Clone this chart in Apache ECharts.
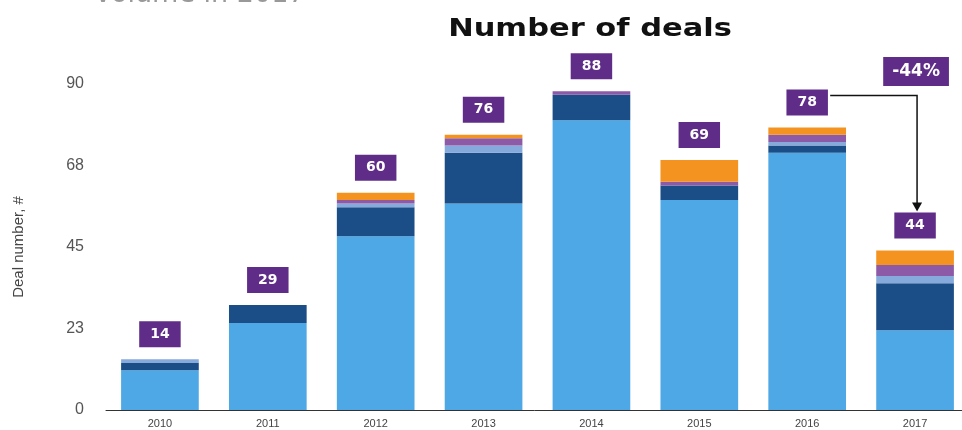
<!DOCTYPE html>
<html>
<head>
<meta charset="utf-8">
<script src="https://cdn.jsdelivr.net/npm/echarts@6/dist/echarts.min.js"></script>
<style>
  html, body { margin: 0; padding: 0; background: #fff; }
  #chart { width: 962px; height: 430px; }
</style>
</head>
<body>
<div id="chart"></div>
<script>
  // values, stacked from the bottom up
  const years = ['2010', '2011', '2012', '2013', '2014', '2015', '2016', '2017'];
  const lightBlue = [11, 24, 48, 57, 80, 58, 71, 22];
  const navy = [2, 5, 8, 14, 7, 4, 2, 13];
  const steel = [1, 0, 1, 2, 0, 0, 1, 2];
  const purple = [0, 0, 1, 2, 1, 1, 2, 3];
  const orange = [0, 0, 2, 1, 0, 6, 2, 4];
  const totals = [14, 29, 60, 76, 88, 69, 78, 44];
  const yTicks = [0, 22.5, 45, 67.5, 90];
  const changeText = '-44%';

  const boxPurple = '#5f2d88';
  const chart = echarts.init(document.getElementById('chart'));

  const stackSeries = (name, data, color) => ({
    name,
    type: 'bar',
    stack: 'deals',
    barCategoryGap: '28%',
    data,
    itemStyle: {
      color,
    },
  });

  chart.setOption({
    animation: false,
    grid: {
      top: 84,
      bottom: 20,
      left: 106,
      width: 863,
      outerBoundsMode: 'none',
      containLabel: false,
    },
    xAxis: {
      type: 'category',
      data: years,
      axisLine: {
        lineStyle: {
          color: '#333',
        },
      },
      axisTick: {
        show: false,
      },
      axisLabel: {
        color: '#444',
        fontSize: 11,
        margin: 8,
      },
    },
    yAxis: {
      type: 'value',
      min: yTicks[0],
      max: yTicks[yTicks.length - 1],
      interval: yTicks[1] - yTicks[0],
      name: 'Deal number, #',
      nameLocation: 'middle',
      nameGap: 80,
      nameTextStyle: {
        color: '#444',
        fontSize: 15,
        fontFamily: 'Liberation Sans Narrow, Liberation Sans',
      },
      axisLine: {
        show: false,
      },
      axisTick: {
        show: false,
      },
      splitLine: {
        show: false,
      },
      axisLabel: {
        color: '#555',
        fontSize: 16,
        margin: 22,
        formatter: value => String(Math.round(value)),
      },
    },
    series: [
      stackSeries('base', lightBlue, '#4ea8e6'),
      stackSeries('navy', navy, '#1b4d86'),
      stackSeries('steel', steel, '#86aadc'),
      stackSeries('purple', purple, '#8d5aa8'),
      stackSeries('orange', orange, '#f4931f'),
      {
        // totals shown as purple boxes above each bar
        name: 'total',
        type: 'scatter',
        symbolSize: 0,
        data: totals,
        z: 5,
        itemStyle: {
          opacity: 1,
        },
        label: {
          show: true,
          position: 'top',
          distance: 12,
          backgroundColor: boxPurple,
          padding: [6, 11],
          color: '#fff',
          fontFamily: 'DejaVu Sans',
          fontWeight: 'bold',
          fontSize: 14,
        },
      },
    ],
  });

  // arrow from the 2016 box down to the 2017 box
  const last = years.length - 1;
  const from = chart.convertToPixel({ gridIndex: 0 }, [years[last - 1], totals[last - 1]]);
  const to = chart.convertToPixel({ gridIndex: 0 }, [years[last], totals[last]]);
  const lineY = from[1] - 32;
  const startX = from[0] + 23;
  const turnX = to[0] + 2;
  const endY = to[1] - 39;

  chart.setOption({
    graphic: [
      {
        // subtitle cut off by the top edge in the source
        type: 'text',
        x: 95,
        y: -5,
        style: {
          text: 'volume in 2017',
          verticalAlign: 'middle',
          fontSize: 27,
          fontFamily: 'DejaVu Sans',
          fill: '#999',
        },
      },
      {
        // title, drawn a little wide like the source image
        type: 'text',
        x: 590,
        y: 29,
        scaleX: 1.22,
        style: {
          text: 'Number of deals',
          align: 'center',
          verticalAlign: 'middle',
          fontFamily: 'DejaVu Sans',
          fontSize: 25,
          fontWeight: 'bold',
          fill: '#111',
        },
      },
      {
        type: 'polyline',
        shape: {
          points: [[startX, lineY], [turnX, lineY], [turnX, endY - 8]],
        },
        style: {
          stroke: '#111',
          lineWidth: 1.5,
          fill: null,
        },
        z: 10,
      },
      {
        type: 'polygon',
        shape: {
          points: [[turnX - 5, endY - 9], [turnX + 5, endY - 9], [turnX, endY]],
        },
        style: {
          fill: '#111',
        },
        z: 10,
      },
      {
        type: 'text',
        x: to[0] + 1,
        y: lineY - 24,
        z: 10,
        style: {
          text: changeText,
          align: 'center',
          verticalAlign: 'middle',
          backgroundColor: boxPurple,
          padding: [6, 9],
          fill: '#fff',
          fontFamily: 'DejaVu Sans',
          fontWeight: 'bold',
          fontSize: 17,
        },
      },
    ],
  });
</script>
</body>
</html>
